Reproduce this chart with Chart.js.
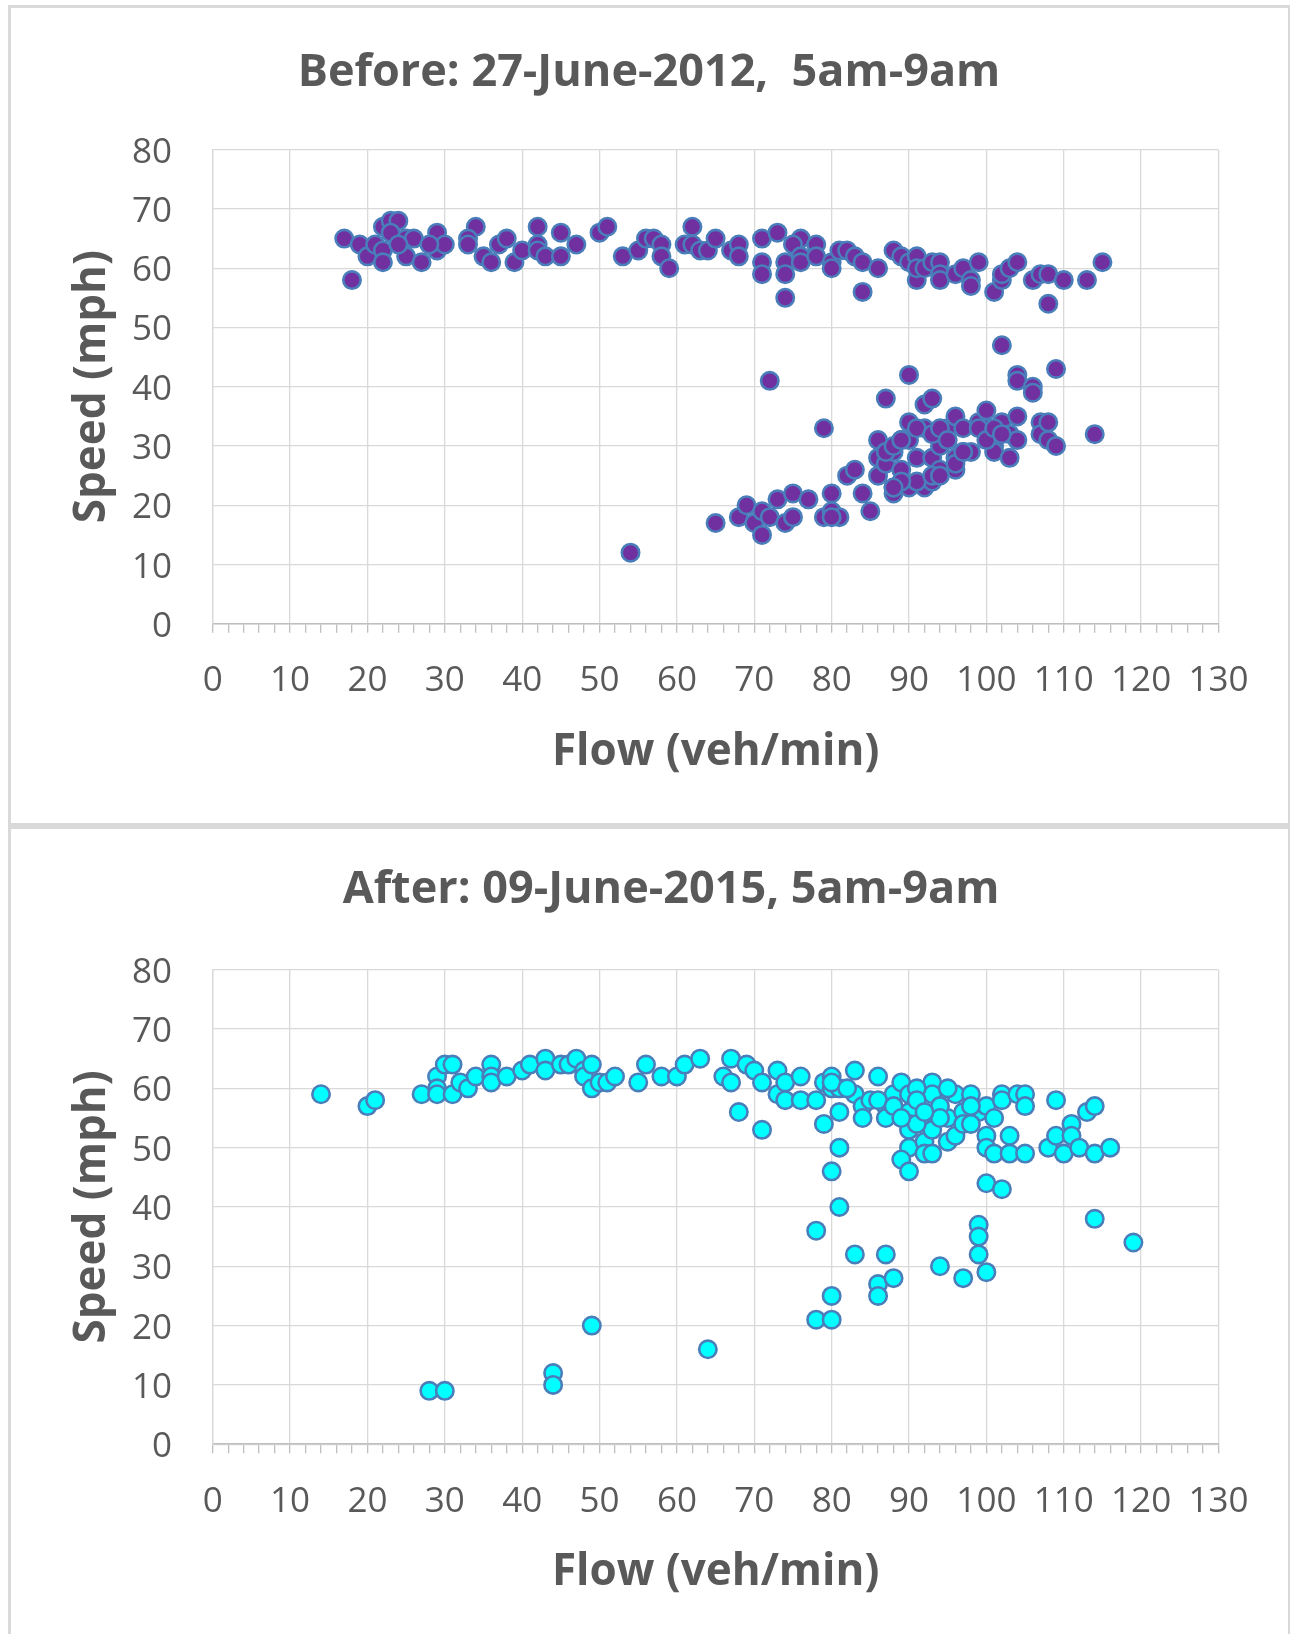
<!DOCTYPE html>
<html lang="en">
<head>
  <meta charset="UTF-8">
  <title>Speed vs Flow, before / after</title>
  <script src="https://cdn.jsdelivr.net/npm/chart.js@4"></script>
  <style>
    body { margin: 0; background: #fff; width: 1290px; height: 1634px; position: relative; overflow: hidden; }
    .frame { position: absolute; left: 8px; top: 5px; width: 1277px; height: 1629px;
             border-left: 3px solid #d9d9d9; border-top: 3px solid #d9d9d9; border-right: 2px solid #d9d9d9; }
    .divider { position: absolute; left: 11px; top: 823px; width: 1277px; height: 6px; background: #d9d9d9; }
    canvas { position: absolute; left: 0; }
    #beforeChart { top: 0; }
    #afterChart { top: 829px; }
  </style>
</head>
<body>
<div class="frame"></div>
<div class="divider"></div>
<canvas id="beforeChart" width="1290" height="823" style="width:1290px;height:823px;"></canvas>
<canvas id="afterChart" width="1290" height="805" style="width:1290px;height:805px;"></canvas>

<script>
// Before: 27-June-2012 (flow veh/min, speed mph)
const beforeFlow = [
  17,18,19,20,21,22,23,24,23,22,22,25,26,25,27,29,29,30,28,24,34,33,33,35,36,37,38,39,40,42,42,42,43,45,45,47,50,51,53,55,56,57,58,58,59,61,62,62,63,64,65,
  67,68,68,71,71,71,73,74,74,74,76,75,76,76,78,78,80,80,81,82,83,84,84,86,88,89,90,91,91,91,92,93,94,94,94,96,97,98,98,99,101,102,102,103,104,106,107,108,108,110,113,115,102,
  65,68,69,70,71,71,72,73,74,75,75,72,77,79,79,80,80,81,80,82,83,84,85,86,86,86,87,87,88,88,88,89,89,90,90,90,90,91,92,93,92,92,93,93,94,94,95,96,96,97,97,96,98,99,100,100,101,101,102,103,103,104,104,104,104,106,106,107,107,108,108,109,109,114,54,
  87,88,89,91,93,94,95,96,97,99,100,101,102,91,89,88,93,94
];
const beforeSpeed = [
  65,58,64,62,64,67,68,68,66,63,61,65,65,62,61,66,63,64,64,64,67,65,64,62,61,64,65,61,63,67,64,63,62,66,62,64,66,67,62,63,65,65,64,62,60,64,67,64,63,63,65,
  63,64,62,65,61,59,66,61,59,55,65,64,62,61,64,62,61,60,63,63,62,61,56,60,63,62,61,62,58,60,60,61,61,59,58,59,60,58,57,61,56,58,59,60,61,58,59,59,54,58,58,61,47,
  17,18,20,17,19,15,18,21,17,22,18,41,21,33,18,22,19,18,18,25,26,22,19,31,28,25,38,27,29,22,23,31,26,42,34,31,23,28,37,38,33,23,24,28,30,26,33,35,26,33,29,28,29,34,36,33,30,29,34,28,32,35,31,42,41,40,39,34,32,34,31,43,30,32,12,
  29,30,31,33,32,33,31,27,29,33,31,33,32,24,24,23,25,25
];

// After: 09-June-2015 (flow veh/min, speed mph)
const afterFlow = [
  14,20,21,27,29,29,29,30,31,31,32,33,34,36,36,36,38,40,41,43,43,45,46,47,48,48,49,49,50,51,52,55,56,58,60,61,63,
  67,66,67,68,69,70,71,71,73,73,74,74,76,76,78,79,79,80,80,81,81,81,83,83,84,84,86,87,87,88,89,90,90,90,90,90,89,90,92,92,92,93,93,93,93,95,95,96,96,97,98,99,100,100,100,101,101,102,102,103,103,104,105,105,105,108,109,109,110,111,111,112,113,114,114,116,
  80,82,85,86,88,91,91,94,94,95,97,98,98,91,92,89,
  80,81,78,83,87,86,86,88,80,78,80,94,97,99,99,99,100,100,102,114,119,
  28,30,44,44,49,64
];
const afterSpeed = [
  59,57,58,59,62,60,59,64,64,59,61,60,62,64,62,61,62,63,64,65,63,64,64,65,63,62,64,60,61,61,62,61,64,62,62,64,65,
  65,62,61,56,64,63,61,53,63,59,61,58,62,58,58,61,54,62,60,60,56,50,63,59,57,55,62,57,55,59,61,59,56,54,53,50,48,46,55,51,49,61,59,53,49,55,51,59,52,56,59,56,57,52,50,55,49,59,58,52,49,59,59,57,49,50,58,52,49,54,52,50,56,57,49,50,
  61,60,58,58,57,60,58,57,55,60,54,57,54,54,56,55,
  46,40,36,32,32,27,25,28,25,21,21,30,28,37,35,32,29,44,43,38,34,
  9,9,12,10,20,16
];

const FONT = "'Open Sans', sans-serif";
const TEXT = '#595959';
const GRID = '#d9d9d9';

// numbers that pin the plot area / texts to where they sit in the picture
const beforeLayout = { padLeft: 79.5, titleTop: 46.6, titleBottom: 49.1, xHeight: 199.2, xTickPad: 27.2, xTitlePad: 44.6, yTitlePad: -13.2 };
const afterLayout  = { padLeft: 123.5, titleTop: 34.4, titleBottom: 52.3, xHeight: 189.8, xTickPad: 28.3, xTitlePad: 35.3, yTitlePad: -57.2 };

function makeScatter(id, titleText, flow, speed, fill, L) {
  const pts = flow.map((x, i) => ({ x: x, y: speed[i] }));
  return new Chart(document.getElementById(id), {
    type: 'scatter',
    data: {
      datasets: [{
        data: pts,
        backgroundColor: fill,
        borderColor: '#4a7ebb',
        borderWidth: 2.6,
        pointRadius: 8.7,
        pointHoverRadius: 8.7
      }]
    },
    options: {
      responsive: false,
      animation: false,
      layout: { padding: { left: L.padLeft, right: 71.5, top: 0, bottom: 0 } },
      plugins: {
        legend: { display: false },
        tooltip: { enabled: false },
        title: {
          display: true,
          text: titleText,
          color: TEXT,
          font: { family: FONT, size: 45, weight: 'bold', lineHeight: 1.2 },
          padding: { top: L.titleTop, bottom: L.titleBottom }
        }
      },
      scales: {
        x: {
          type: 'linear',
          min: 0,
          max: 130,
          afterFit: s => { s.height = L.xHeight; },
          ticks: {
            stepSize: 2,
            autoSkip: false,
            maxRotation: 0,
            padding: L.xTickPad,
            color: TEXT,
            font: { family: FONT, size: 35 },
            callback: v => (v % 10 === 0 ? v : '')
          },
          grid: {
            color: c => (c.tick && c.tick.value % 10 === 0 ? GRID : 'rgba(0,0,0,0)'),
            lineWidth: 1.3,
            tickColor: '#bfbfbf',
            tickLength: 9,
            tickWidth: 1.3
          },
          border: { color: '#bfbfbf', width: 1.5 },
          title: {
            display: true,
            text: 'Flow (veh/min)',
            color: TEXT,
            font: { family: FONT, size: 44, weight: 'bold', lineHeight: 1.2 },
            padding: { top: 0, bottom: L.xTitlePad }
          }
        },
        y: {
          min: 0,
          max: 80,
          afterFit: s => { s.width = 212.7 - L.padLeft; },
          ticks: {
            stepSize: 10,
            padding: 40.7,
            labelOffset: 3,
            color: TEXT,
            font: { family: FONT, size: 35 }
          },
          grid: { color: GRID, lineWidth: 1.3, drawTicks: false },
          border: { color: GRID, width: 1.3 },
          title: {
            display: true,
            text: 'Speed (mph)',
            color: TEXT,
            font: { family: FONT, size: 44, weight: 'bold', lineHeight: 1.2 },
            padding: { top: L.yTitlePad, bottom: 0 }
          }
        }
      }
    }
  });
}

makeScatter('beforeChart', 'Before: 27-June-2012,  5am-9am', beforeFlow, beforeSpeed, '#7030a0', beforeLayout);
makeScatter('afterChart', 'After: 09-June-2015, 5am-9am', afterFlow, afterSpeed, '#00ffff', afterLayout);
</script>
</body>
</html>
